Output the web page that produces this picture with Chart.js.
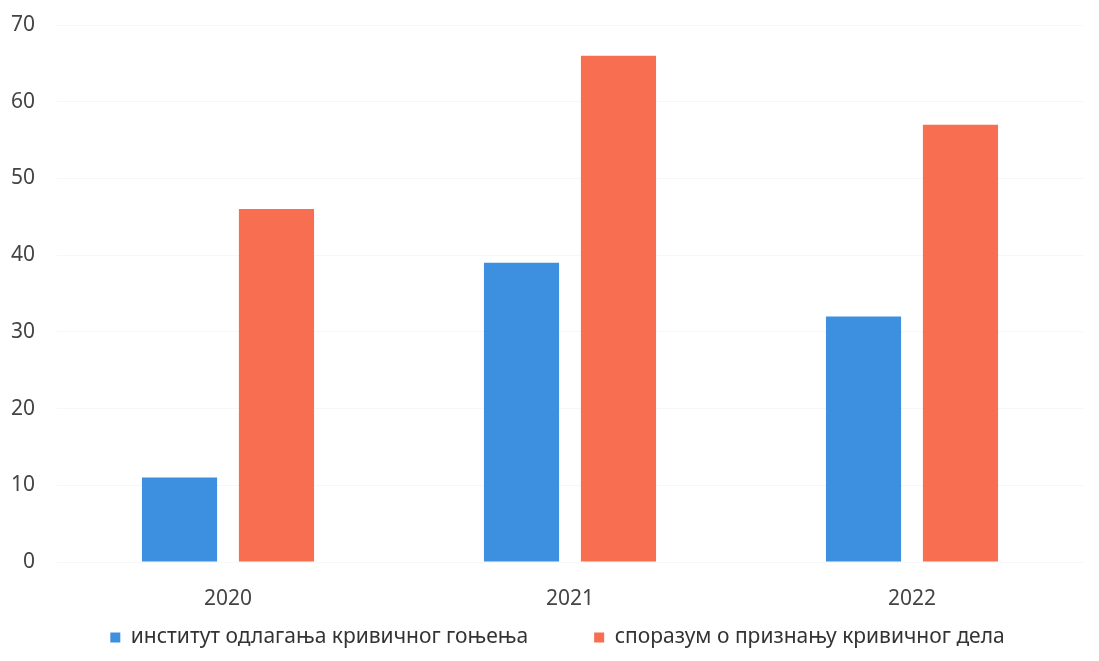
<!DOCTYPE html>
<html>
<head>
<meta charset="utf-8">
<script src="https://cdn.jsdelivr.net/npm/chart.js@4"></script>
<style>
  html, body { margin: 0; padding: 0; background: #fff; }
  #wrap { width: 1099px; height: 661px; }
</style>
</head>
<body>
<div id="wrap"><canvas id="chart"></canvas></div>
<script>
// Data
const years = ['2020', '2021', '2022'];
const deferredProsecution = [11, 39, 32];
const pleaAgreement = [46, 66, 57];
const seriesNames = ['институт одлагања кривичног гоњења', 'споразум о признању кривичног дела'];

// The legend needs a wide gap between its two items, which Chart.js also
// applies vertically, so the legend box is moved back into place after layout.
const legendShift = {
  id: 'legendShift',
  afterLayout: function(chart) {
    const legend = chart.legend;
    if (!legend) return;
    legend.left += 16;
    legend.right += 16;
    legend.top -= 50;
    legend.bottom -= 50;
  }
};

const ctx = document.getElementById('chart');

new Chart(ctx, {
  type: 'bar',
  data: {
    labels: years,
    datasets: [
      {
        label: seriesNames[0],
        data: deferredProsecution,
        backgroundColor: '#3d8fe0',
        categoryPercentage: 0.567,
        barPercentage: 0.775
      },
      {
        label: seriesNames[1],
        data: pleaAgreement,
        backgroundColor: '#f76f50',
        categoryPercentage: 0.567,
        barPercentage: 0.775
      }
    ]
  },
  options: {
    responsive: true,
    maintainAspectRatio: false,
    animation: false,
    layout: {
      padding: { top: 25, right: 16, bottom: -47, left: 0 }
    },
    scales: {
      x: {
        grid: { display: false },
        border: { display: false },
        ticks: {
          color: '#444',
          font: { family: 'Noto Sans', size: 21 },
          padding: 16
        },
        afterFit: function(scale) {
          scale.height = 49;
        }
      },
      y: {
        min: 0,
        max: 70,
        grid: { color: '#f7f7f7', drawTicks: false },
        border: { display: false },
        ticks: {
          stepSize: 10,
          color: '#444',
          font: { family: 'Noto Sans', size: 21 },
          padding: 22
        },
        afterFit: function(scale) {
          scale.width = 57;
          scale.paddingTop = 0;
          scale.paddingBottom = 0;
        }
      }
    },
    plugins: {
      legend: {
        position: 'bottom',
        labels: {
          boxWidth: 10,
          boxHeight: 10,
          color: '#333',
          padding: 66,
          font: { family: 'Noto Sans', size: 21 }
        }
      },
      tooltip: { enabled: false }
    }
  },
  plugins: [legendShift]
});
</script>
</body>
</html>
